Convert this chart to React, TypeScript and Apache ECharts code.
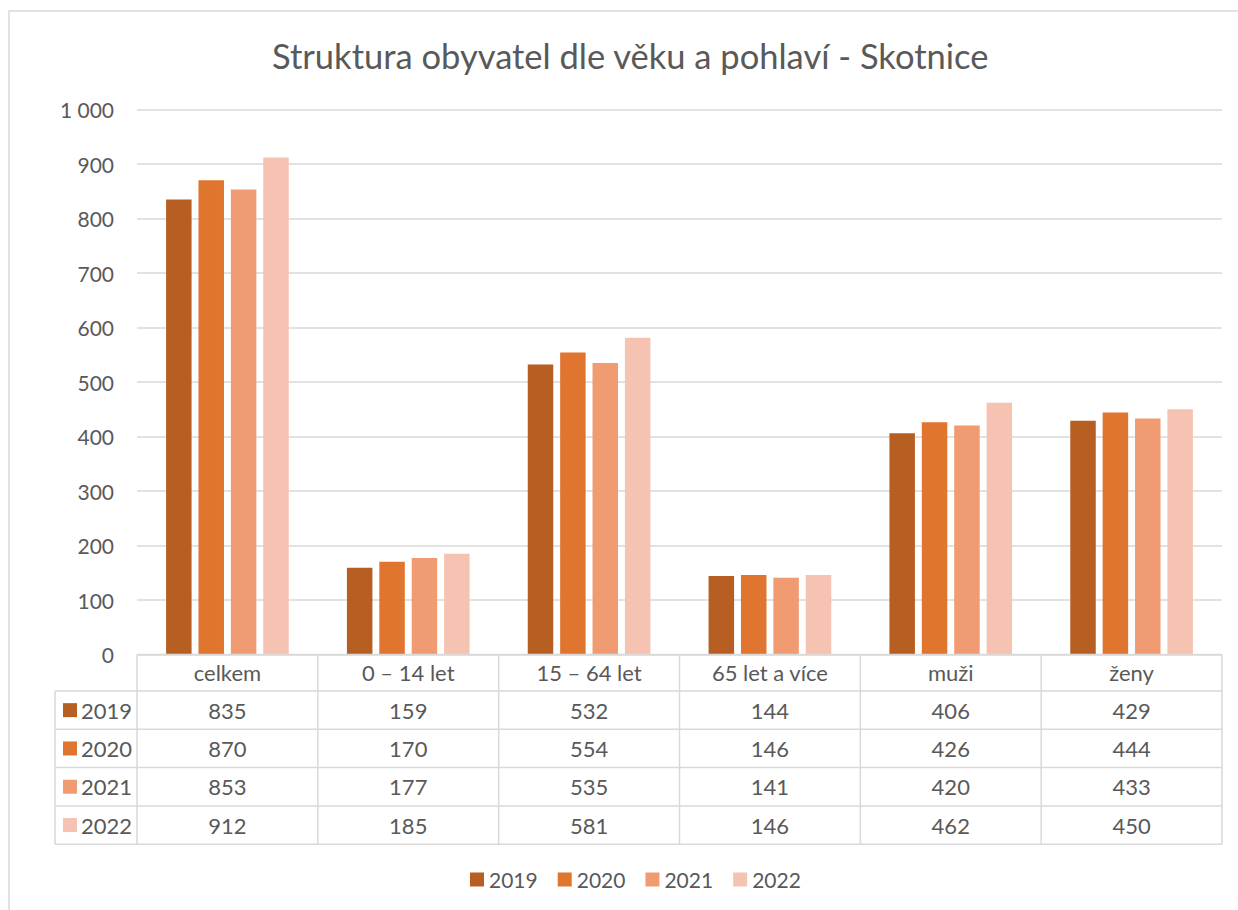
import React, { useEffect, useRef } from "react";
import * as echarts from "echarts";

const categories = ["celkem", "0 – 14 let", "15 – 64 let", "65 let a více", "muži", "ženy"];
const years = ["2019", "2020", "2021", "2022"];
const v2019 = [835, 159, 532, 144, 406, 429];
const v2020 = [870, 170, 554, 146, 426, 444];
const v2021 = [853, 177, 535, 141, 420, 433];
const v2022 = [912, 185, 581, 146, 462, 450];
const seriesValues = [v2019, v2020, v2021, v2022];
const colors = ["#B75F22", "#E07530", "#F19B73", "#F6C3B2"];
const titleText = "Struktura obyvatel dle věku a pohlaví - Skotnice";

const FONT = "Lato, 'Noto Sans', sans-serif";
const TXT = "#595959";
const LINE = "#D9D9D9";

// layout
const W = 1238;
const H = 910;
const PLOT_L = 137;
const PLOT_R = 1222;
const PLOT_T = 109.5;
const PLOT_B = 654.5;
const TABLE_L = 55;
const HEADER_B = 691;
const ROW_H = 38.3;

function buildTable() {
  const els: any[] = [];
  const colW = (PLOT_R - PLOT_L) / categories.length;
  const rowsBottom = HEADER_B + ROW_H * years.length;
  const ls = { stroke: LINE, lineWidth: 1.5 };
  els.push({ type: "line", shape: { x1: PLOT_L, y1: PLOT_B, x2: PLOT_R, y2: PLOT_B }, style: ls, z: 10 });
  for (let r = 0; r <= years.length; r++) {
    const y = HEADER_B + r * ROW_H;
    els.push({ type: "line", shape: { x1: TABLE_L, y1: y, x2: PLOT_R, y2: y }, style: ls, z: 10 });
  }
  els.push({ type: "line", shape: { x1: TABLE_L, y1: HEADER_B, x2: TABLE_L, y2: rowsBottom }, style: ls, z: 10 });
  for (let c = 0; c <= categories.length; c++) {
    const x = PLOT_L + c * colW;
    els.push({ type: "line", shape: { x1: x, y1: PLOT_B, x2: x, y2: rowsBottom }, style: ls, z: 10 });
  }
  years.forEach((yr, r) => {
    const cy = HEADER_B + r * ROW_H + ROW_H / 2;
    els.push({ type: "rect", shape: { x: 63, y: cy - 7, width: 14, height: 14 }, style: { fill: colors[r] }, z: 10 });
    els.push({
      type: "text",
      x: 81,
      y: cy,
      style: { text: yr, fill: TXT, font: `22px ${FONT}`, textAlign: "left", textVerticalAlign: "middle" },
      z: 10,
    });
    seriesValues[r].forEach((v, c) => {
      els.push({
        type: "text",
        x: PLOT_L + c * colW + colW / 2,
        y: cy,
        style: { text: String(v), fill: TXT, font: `22px ${FONT}`, textAlign: "center", textVerticalAlign: "middle" },
        z: 10,
      });
    });
  });
  els.push({ type: "rect", shape: { x: 9, y: 11, width: W + 20, height: H + 20 }, style: { fill: "none", stroke: LINE, lineWidth: 1.5 }, z: 0 });
  return els;
}

export default function App() {
  const ref = useRef<HTMLDivElement>(null);
  useEffect(() => {
    document.body.style.margin = "0";
    const chart = echarts.init(ref.current!, null, { renderer: "svg" });
    chart.setOption({
      animation: false,
      backgroundColor: "#ffffff",
      title: {
        text: titleText,
        left: 272,
        top: 38,
        padding: 0,
        textStyle: { color: TXT, fontFamily: FONT, fontSize: 34.5, fontWeight: "normal" },
      },
      legend: {
        data: years,
        left: 470,
        top: 869,
        padding: 0,
        icon: "rect",
        itemWidth: 14,
        itemHeight: 14,
        itemGap: 20,
        textStyle: { color: TXT, fontFamily: FONT, fontSize: 21 },
      },
      grid: { left: PLOT_L, right: W - PLOT_R, top: PLOT_T, bottom: H - PLOT_B, containLabel: false },
      xAxis: {
        type: "category",
        data: categories,
        axisLine: { show: false },
        axisTick: { show: false },
        axisLabel: { color: TXT, fontFamily: FONT, fontSize: 22, margin: 18, verticalAlign: "middle", interval: 0 },
      },
      yAxis: {
        type: "value",
        min: 0,
        max: 1000,
        interval: 100,
        axisLine: { show: false },
        axisTick: { show: false },
        splitLine: { lineStyle: { color: LINE, width: 1.5 } },
        axisLabel: {
          color: TXT,
          fontFamily: FONT,
          fontSize: 21,
          margin: 23,
          formatter: (v: number) => String(v).replace(/\B(?=(\d{3})+(?!\d))/g, " "),
        },
      },
      series: years.map((yr, i) => ({
        name: yr,
        type: "bar",
        data: seriesValues[i],
        barWidth: 25.5,
        barGap: "27%",
        itemStyle: { color: colors[i] },
      })),
      graphic: buildTable(),
    });
    return () => chart.dispose();
  }, []);
  return <div ref={ref} style={{ width: W, height: H }} />;
}
